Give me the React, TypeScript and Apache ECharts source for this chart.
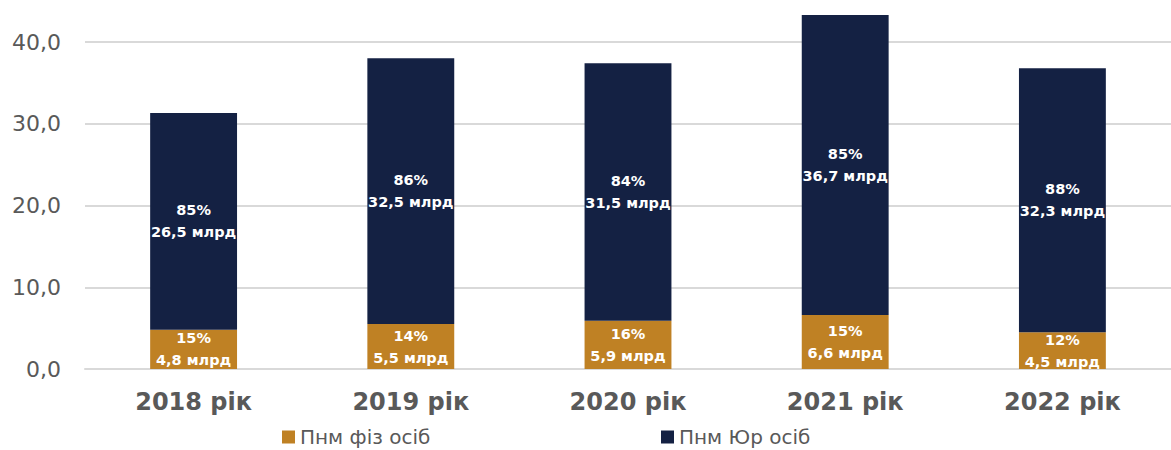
import React, { useEffect, useRef } from "react";
import * as echarts from "echarts";

const categories = ["2018 рік", "2019 рік", "2020 рік", "2021 рік", "2022 рік"];
const physValues = [4.8, 5.5, 5.9, 6.6, 4.5];
const legalValues = [26.5, 32.5, 31.5, 36.7, 32.3];
const physShares = ["15%", "14%", "16%", "15%", "12%"];
const legalShares = ["85%", "86%", "84%", "85%", "88%"];
const yTicks = [0, 10, 20, 30, 40];

const FONT = "'DejaVu Sans', sans-serif";
const fmt = (v: number) => v.toFixed(1).replace(".", ",");

export default function App() {
  const ref = useRef<HTMLDivElement>(null);
  useEffect(() => {
    const chart = echarts.init(ref.current!, null, { renderer: "svg" });
    const labelStyle = {
      show: true,
      position: "inside",
      color: "#ffffff",
      fontWeight: "bold",
      fontSize: 14.5,
      lineHeight: 22,
      fontFamily: FONT,
    };
    const legendCommon = {
      top: 427,
      padding: 0,
      icon: "rect",
      itemWidth: 13,
      itemHeight: 13,
      itemGap: 8,
      textStyle: { color: "#595959", fontSize: 20, fontFamily: FONT },
    };
    chart.setOption({
      animation: false,
      backgroundColor: "#ffffff",
      textStyle: { fontFamily: FONT },
      grid: { left: 85, right: 0, top: 42, bottom: 81, containLabel: false },
      legend: [
        { ...legendCommon, data: ["Пнм фіз осіб"], left: 282 },
        { ...legendCommon, data: ["Пнм Юр осіб"], left: 661 },
      ],
      xAxis: {
        type: "category",
        data: categories,
        axisLine: { show: true, lineStyle: { color: "#d9d9d9", width: 2 } },
        axisTick: { show: false },
        axisLabel: {
          color: "#595959",
          fontSize: 24,
          fontWeight: "bold",
          margin: 21,
          fontFamily: FONT,
        },
      },
      yAxis: {
        type: "value",
        min: yTicks[0],
        max: yTicks[yTicks.length - 1],
        interval: 10,
        axisLine: { show: false },
        axisTick: { show: false },
        splitLine: { lineStyle: { color: "#d9d9d9", width: 2 } },
        axisLabel: {
          color: "#595959",
          fontSize: 22,
          margin: 24,
          fontFamily: FONT,
          formatter: (v: number) => fmt(v),
        },
      },
      series: [
        {
          name: "Пнм фіз осіб",
          type: "bar",
          stack: "total",
          barWidth: "40%",
          clip: false,
          data: physValues,
          itemStyle: { color: "#BF8124" },
          label: {
            ...labelStyle,
            formatter: (p: any) =>
              physShares[p.dataIndex] + "\n" + fmt(physValues[p.dataIndex]) + " млрд",
          },
        },
        {
          name: "Пнм Юр осіб",
          type: "bar",
          stack: "total",
          barWidth: "40%",
          clip: false,
          data: legalValues,
          itemStyle: { color: "#142143" },
          label: {
            ...labelStyle,
            formatter: (p: any) =>
              legalShares[p.dataIndex] + "\n" + fmt(legalValues[p.dataIndex]) + " млрд",
          },
        },
      ],
    });
    return () => chart.dispose();
  }, []);
  return (
    <div
      ref={ref}
      style={{ position: "fixed", left: 0, top: 0, width: 1171, height: 450 }}
    />
  );
}
